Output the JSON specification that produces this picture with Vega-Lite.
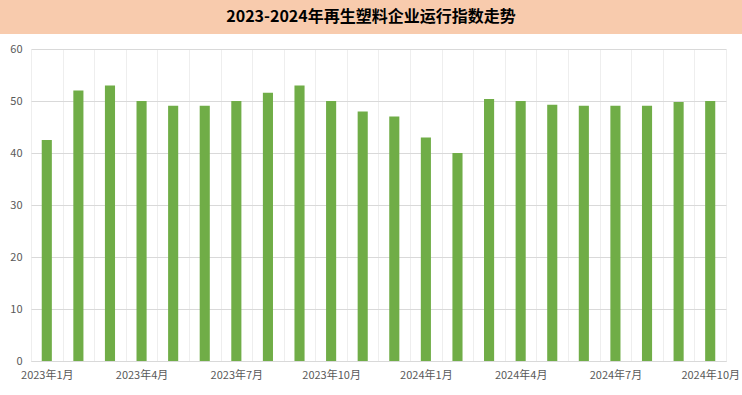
{
  "$schema": "https://vega.github.io/schema/vega-lite/v6.json",
  "background": "white",
  "padding": 0,
  "spacing": 9,
  "config": {
    "font": "Noto Sans CJK SC"
  },
  "datasets": {
    "title": [{"t": "2023-2024年再生塑料企业运行指数走势"}],
    "idx": [
      {"m": "2023年1月", "v": 42.5},
      {"m": "2023年2月", "v": 52.0},
      {"m": "2023年3月", "v": 53.0},
      {"m": "2023年4月", "v": 50.0},
      {"m": "2023年5月", "v": 49.1},
      {"m": "2023年6月", "v": 49.1},
      {"m": "2023年7月", "v": 50.0},
      {"m": "2023年8月", "v": 51.6},
      {"m": "2023年9月", "v": 53.0},
      {"m": "2023年10月", "v": 50.0},
      {"m": "2023年11月", "v": 48.0},
      {"m": "2023年12月", "v": 47.0},
      {"m": "2024年1月", "v": 43.0},
      {"m": "2024年2月", "v": 40.0},
      {"m": "2024年3月", "v": 50.4},
      {"m": "2024年4月", "v": 50.0},
      {"m": "2024年5月", "v": 49.3},
      {"m": "2024年6月", "v": 49.1},
      {"m": "2024年7月", "v": 49.1},
      {"m": "2024年8月", "v": 49.1},
      {"m": "2024年9月", "v": 49.8},
      {"m": "2024年10月", "v": 50.0}
    ]
  },
  "vconcat": [
    {
      "width": 742,
      "height": 34,
      "view": {"fill": "#F8CBAD", "stroke": null},
      "data": {"name": "title"},
      "mark": {"type": "text", "font": "Noto Sans CJK SC", "fontWeight": "bold", "fontSize": 16, "color": "#000000", "baseline": "middle", "align": "center"},
      "encoding": {"text": {"field": "t"}}
    },
    {
      "width": 742,
      "height": 312,
      "view": {"stroke": null},
      "data": {"name": "idx"},
      "mark": {"type": "bar", "color": "#70AD47", "width": {"band": 0.32}},
      "encoding": {
        "x": {
          "field": "m", "type": "ordinal", "sort": null,
          "scale": {"paddingInner": 0, "paddingOuter": 0, "range": [31, 726]},
          "axis": {
            "title": null, "tickBand": "extent", "grid": true, "gridColor": "#EEEEEE",
            "ticks": false, "domain": true, "domainColor": "#D9D9D9",
            "labelAngle": 0, "labelFontSize": 11, "labelColor": "#595959", "labelPadding": 8,
            "labelFont": "Noto Sans CJK SC",
            "labelOverlap": false,
            "labelExpr": "indexof(['2023年1月','2023年4月','2023年7月','2023年10月','2024年1月','2024年4月','2024年7月','2024年10月'], datum.value) >= 0 ? datum.value : ''"
          }
        },
        "y": {
          "field": "v", "type": "quantitative",
          "scale": {"domain": [0, 60], "nice": false},
          "axis": {
            "title": null, "values": [0, 10, 20, 30, 40, 50, 60], "grid": true, "gridColor": "#D9D9D9",
            "ticks": false, "domain": false, "labelFontSize": 11, "labelColor": "#595959",
            "labelPadding": 9, "offset": -31, "labelFont": "Noto Sans CJK SC"
          }
        }
      }
    }
  ]
}
